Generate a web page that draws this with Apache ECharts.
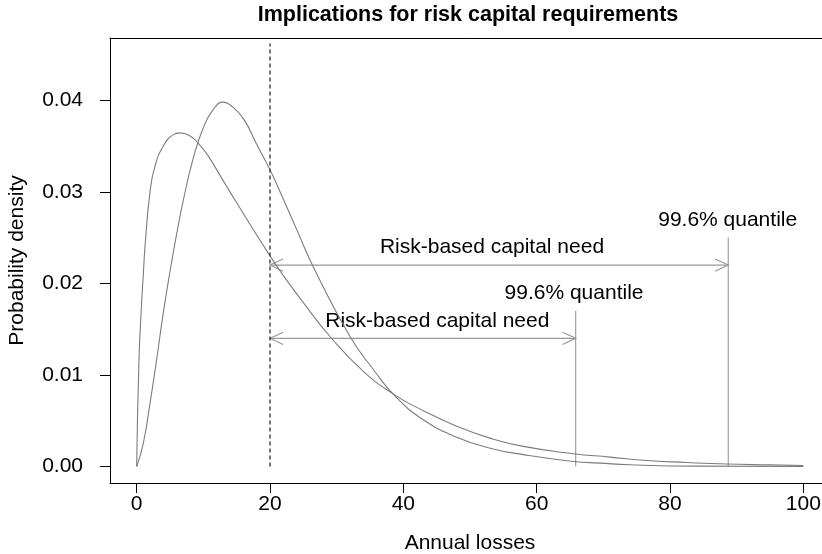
<!DOCTYPE html>
<html>
<head>
<meta charset="utf-8">
<script src="https://cdn.jsdelivr.net/npm/echarts@6/dist/echarts.min.js"></script>
<style>
  html, body { margin: 0; padding: 0; background: #fff; }
  #chart { width: 822px; height: 554px; }
</style>
</head>
<body>
<div id="chart"></div>
<script>
// Annual loss density, distribution with the heavier tail
const lossA = [0, 0.35, 0.75, 1, 1.25, 2, 2.75, 4, 5.5, 6.5, 8, 9.25, 10.75, 12.5, 15, 20, 22.25, 25, 29, 34, 38.75, 43, 48, 53, 58, 65.5, 71, 76, 82.5, 88.5, 95, 100];
const densA = [0, 0.0117, 0.0180, 0.0210, 0.0240, 0.0300, 0.0328, 0.0350, 0.03625, 0.03644, 0.0361, 0.0353, 0.0339, 0.0318, 0.0288, 0.0230, 0.0206, 0.0179, 0.0142, 0.0104, 0.0078, 0.0061, 0.0044, 0.0031, 0.0022, 0.0014, 0.00103, 0.00068, 0.00044, 0.00027, 0.00018, 0.00011];

// Annual loss density, distribution with the lighter tail
const lossB = [0, 1, 2, 3, 4, 5, 6, 7, 8.5, 10, 11.5, 13, 14, 16, 18, 20, 22, 24, 26.5, 32, 35.5, 38.75, 43, 48, 53, 58, 65.5, 69.5, 74, 84, 100];
const densB = [0, 0.00256, 0.0069, 0.0117, 0.0168, 0.0213, 0.0254, 0.0291, 0.0337, 0.0370, 0.0390, 0.0398, 0.0395, 0.0380, 0.0352, 0.0324, 0.0292, 0.0259, 0.0218, 0.0142, 0.0106, 0.0077, 0.0051, 0.0032, 0.0020, 0.0013, 0.00055, 0.00037, 0.00019, 0.00004, 0.00001];

// Capital need markers
const thresholdLoss = 20;
const thresholdTop = 0.0462;
const quantileLoss = [65.85, 88.74];
const quantileTop = [0.017, 0.025];
const arrowLevel = [0.014, 0.022];

// Annotation texts
const noteText = ['Risk-based capital need', 'Risk-based capital need', '99.6% quantile', '99.6% quantile'];
const noteX = [45.1, 53.3, 65.6, 88.65];
const noteY = [0.0159, 0.0240, 0.0189, 0.0269];

// Axis ticks
const xTicks = [0, 20, 40, 60, 80, 100];
const yTicks = [0, 0.01, 0.02, 0.03, 0.04];

const FONT = '"Liberation Sans", Arial, Helvetica, sans-serif';
const FS = 21;

const chart = echarts.init(document.getElementById('chart'), null, { renderer: 'canvas' });

const pairs = (xs, ys) => xs.map((x, i) => [x, ys[i]]);

function arrowHead(px, py, dir, len, ang) {
  const a = ang * Math.PI / 180;
  return [
    [px + dir * len * Math.cos(a), py - len * Math.sin(a)],
    [px, py],
    [px + dir * len * Math.cos(a), py + len * Math.sin(a)]
  ];
}

const frameLine = { show: true, onZero: false, lineStyle: { color: '#000', width: 1 } };

const option = {
  animation: false,
  backgroundColor: '#fff',
  // plot box runs past the right edge of the canvas; its left, top and bottom edges come from the axis lines
  grid: { left: 110, width: 720, top: 38, height: 445, outerBoundsMode: 'none', containLabel: false, show: false },
  graphic: [{
    type: 'text', x: 468, y: 15,
    style: { text: 'Implications for risk capital requirements', font: 'bold 21.5px ' + FONT, fill: '#000', textAlign: 'center', textVerticalAlign: 'middle' }
  }],
  xAxis: [{
    type: 'value', min: -4, max: 104, position: 'bottom',
    axisLine: frameLine,
    splitLine: { show: false },
    axisTick: { show: true, inside: false, customValues: xTicks, length: 10, lineStyle: { color: '#000', width: 1 } },
    axisLabel: { customValues: xTicks, color: '#000', fontSize: FS, fontFamily: FONT, margin: 11 },
    name: 'Annual losses', nameLocation: 'middle', nameGap: 50,
    nameTextStyle: { color: '#000', fontSize: FS, fontFamily: FONT }
  }, {
    type: 'value', min: -4, max: 104, position: 'top',
    axisLine: frameLine,
    splitLine: { show: false }, axisTick: { show: false }, axisLabel: { show: false }
  }],
  yAxis: {
    type: 'value', min: -0.0018, max: 0.0468,
    axisLine: frameLine,
    splitLine: { show: false },
    axisTick: { show: true, inside: false, customValues: yTicks, length: 10, lineStyle: { color: '#000', width: 1 } },
    axisLabel: { customValues: yTicks, color: '#000', fontSize: FS, fontFamily: FONT, margin: 27, formatter: v => v.toFixed(2) },
    name: 'Probability density', nameLocation: 'middle', nameGap: 82, nameRotate: 90,
    nameTextStyle: { color: '#000', fontSize: FS, fontFamily: FONT }
  },
  series: [
    {
      type: 'line', data: pairs(lossA, densA), showSymbol: false, symbol: 'none',
      smooth: 0.5,
      lineStyle: { color: '#7c7c7c', width: 1.1 }
    },
    {
      type: 'line', data: pairs(lossB, densB), showSymbol: false, symbol: 'none',
      smooth: 0.5,
      lineStyle: { color: '#7c7c7c', width: 1.1 }
    },
    {
      type: 'line', data: [[thresholdLoss, 0], [thresholdLoss, thresholdTop]], showSymbol: false, symbol: 'none',
      lineStyle: { color: '#3a3a3a', width: 1.4, type: [4, 3] }
    },
    {
      // vertical lines at the quantiles
      type: 'custom',
      data: quantileLoss.map((q, i) => [q, quantileTop[i]]),
      renderItem: (params, api) => {
        const p0 = api.coord([api.value(0), 0]);
        const p1 = api.coord([api.value(0), api.value(1)]);
        return { type: 'line', shape: { x1: p0[0], y1: p0[1], x2: p1[0], y2: p1[1] }, style: { stroke: '#a0a0a0', lineWidth: 1.2 } };
      }
    },
    {
      // double-headed arrows from the threshold to each quantile
      type: 'custom',
      data: quantileLoss.map((q, i) => [thresholdLoss, q, arrowLevel[i]]),
      renderItem: (params, api) => {
        const p0 = api.coord([api.value(0), api.value(2)]);
        const p1 = api.coord([api.value(1), api.value(2)]);
        const st = { stroke: '#999', lineWidth: 1.2, fill: null };
        return {
          type: 'group',
          children: [
            { type: 'line', shape: { x1: p0[0], y1: p0[1], x2: p1[0], y2: p1[1] }, style: st },
            { type: 'polyline', shape: { points: arrowHead(p0[0], p0[1], 1, 14.5, 25) }, style: st },
            { type: 'polyline', shape: { points: arrowHead(p1[0], p1[1], -1, 14.5, 25) }, style: st }
          ]
        };
      }
    },
    {
      // annotation texts
      type: 'custom',
      data: noteX.map((x, i) => [x, noteY[i]]),
      renderItem: (params, api) => {
        const p = api.coord([api.value(0), api.value(1)]);
        return {
          type: 'text', x: p[0], y: p[1],
          style: { text: noteText[params.dataIndex], font: FS + 'px ' + FONT, fill: '#000', textAlign: 'center', textVerticalAlign: 'middle' }
        };
      }
    }
  ]
};

chart.setOption(option);
</script>
</body>
</html>
